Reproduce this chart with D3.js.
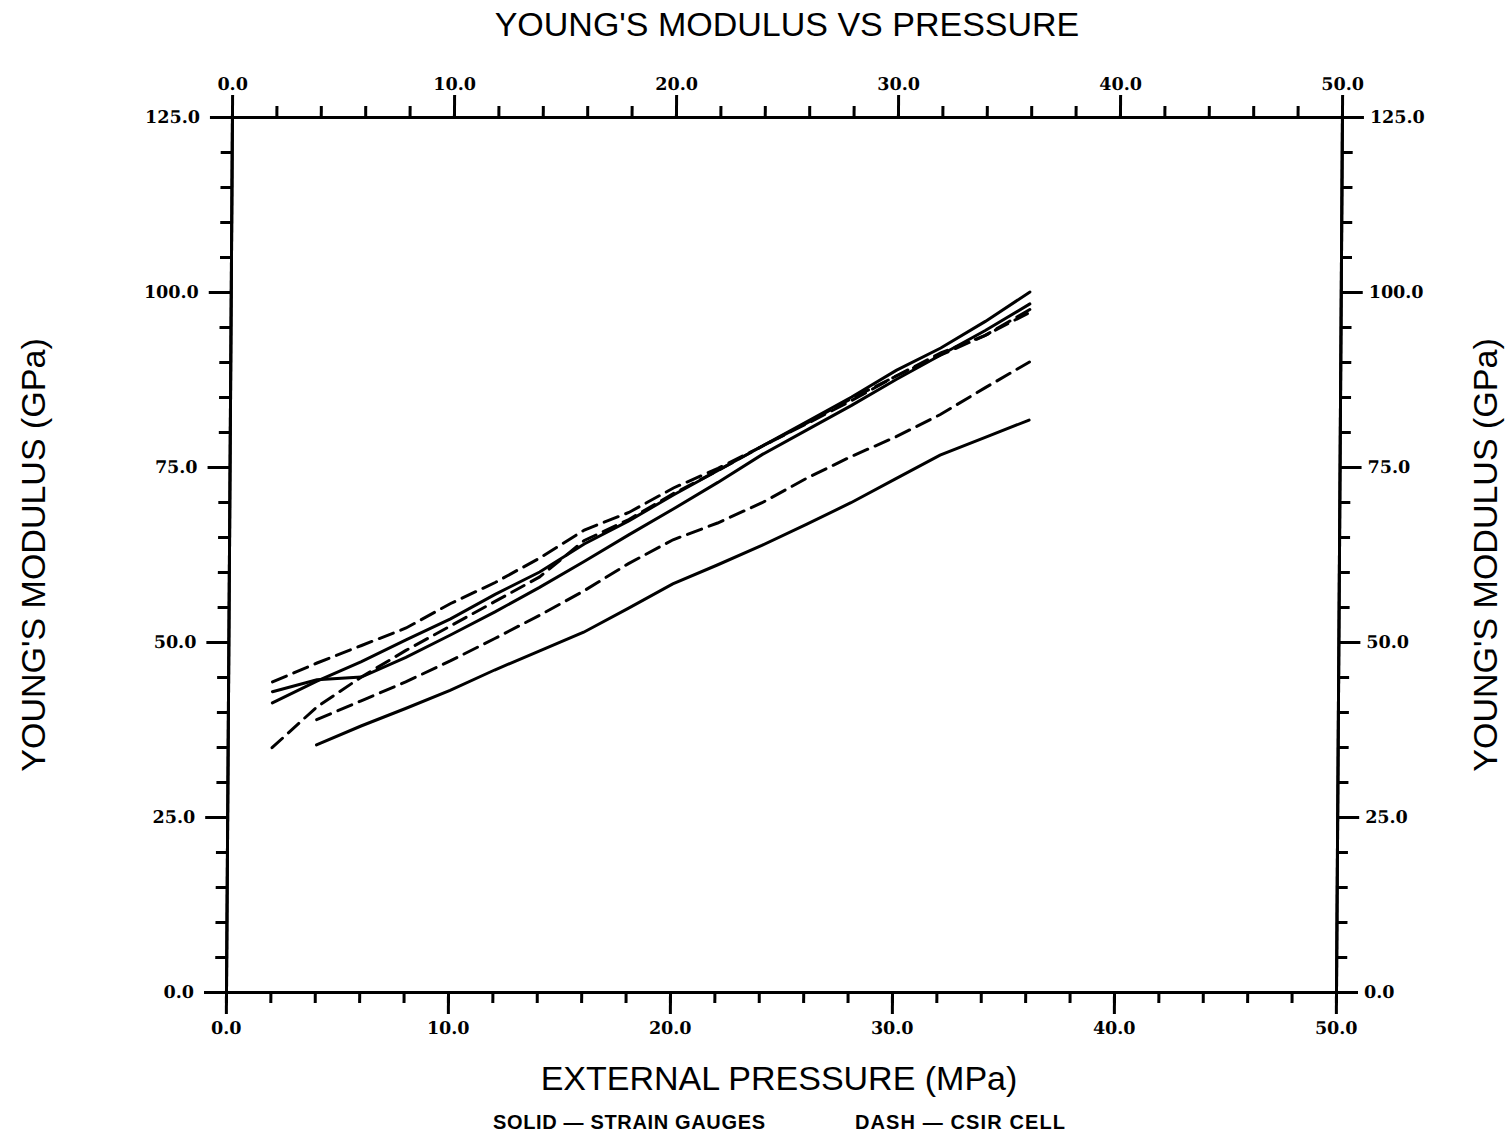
<!DOCTYPE html>
<html>
<head>
<meta charset="UTF-8">
<title>Young's Modulus vs Pressure</title>
<script src="https://d3js.org/d3.v7.min.js"></script>
<style>
  body { margin: 0; background: #fff; }
  .axis path, .axis line { stroke: #000; stroke-width: 3px; }
  .axis text { font-family: "DejaVu Serif", serif; font-weight: bold; font-size: 17.5px; fill: #000; }
  .label { font-family: "Liberation Sans", Arial, sans-serif; font-size: 34px; fill: #000; }
  .legend { font-family: "Liberation Sans", Arial, sans-serif; font-weight: bold; font-size: 20px; fill: #000; }
</style>
</head>
<body>
<div id="chart"></div>
<script>
// pressures (MPa)
var pressureFrom2 = [2, 4, 6, 8, 10, 12, 14, 16, 18, 20, 22, 24, 26, 28, 30, 32, 34, 36];
var pressureFrom4 = [4, 6, 8, 10, 12, 14, 16, 18, 20, 22, 24, 26, 28, 30, 32, 34, 36];

// solid - strain gauges (GPa)
var gaugeLow  = [35.3, 38.0, 40.5, 43.1, 46.0, 48.7, 51.4, 54.8, 58.3, 61.0, 63.8, 66.8, 69.9, 73.3, 76.7, 79.2, 81.7];
var gaugeMid  = [42.9, 44.6, 45.0, 47.8, 51.0, 54.3, 57.8, 61.5, 65.3, 69.0, 72.8, 76.8, 80.3, 83.8, 87.5, 91.0, 94.5, 98.3];
var gaugeHigh = [41.3, 44.4, 47.2, 50.3, 53.3, 56.8, 60.0, 64.0, 67.3, 71.0, 74.5, 78.0, 81.5, 85.0, 88.8, 92.0, 95.8, 100.0];

// dash - CSIR cell (GPa)
var cellLow  = [38.9, 41.6, 44.3, 47.3, 50.5, 53.8, 57.3, 61.2, 64.6, 67.0, 69.9, 73.4, 76.5, 79.3, 82.5, 86.3, 90.0];
var cellMid  = [34.9, 40.7, 45.0, 48.8, 52.3, 55.8, 59.3, 64.5, 67.5, 71.2, 74.5, 78.0, 81.3, 84.8, 88.0, 91.3, 93.8, 97.1];
var cellHigh = [44.3, 47.0, 49.5, 52.0, 55.5, 58.5, 62.0, 66.0, 68.5, 72.0, 74.8, 78.0, 81.2, 84.5, 88.0, 91.0, 93.8, 97.5];

// tick values
var xMajor = [0, 10, 20, 30, 40, 50];
var xMinor = d3.range(0, 51, 2);
var yMajor = [0, 25, 50, 75, 100, 125];
var yMinor = d3.range(0, 126, 5);

var series = [
  {x: pressureFrom4, y: gaugeLow,  dash: null},
  {x: pressureFrom2, y: gaugeMid,  dash: null},
  {x: pressureFrom2, y: gaugeHigh, dash: null},
  {x: pressureFrom4, y: cellLow,   dash: "15,8"},
  {x: pressureFrom2, y: cellMid,   dash: "14,8"},
  {x: pressureFrom2, y: cellHigh,  dash: "15,8"}
];

var width = 1110, height = 875;

var svg = d3.select("#chart")
  .append("svg")
  .attr("width", 1505)
  .attr("height", 1133);

// the scanned frame leans a little, so skew the plot group slightly
var g = svg.append("g")
  .attr("transform", "translate(226,992) skewX(-0.39) translate(0," + (-height) + ")");

var x = d3.scaleLinear().domain([0, 50]).range([0, width]);
var y = d3.scaleLinear().domain([0, 125]).range([height, 0]);
var fmt = d3.format(".1f");

// minor ticks
g.append("g").attr("class", "axis").attr("transform", "translate(0," + height + ")")
  .call(d3.axisBottom(x).tickValues(xMinor).tickSize(11).tickSizeOuter(0).tickFormat(""));
g.append("g").attr("class", "axis")
  .call(d3.axisTop(x).tickValues(xMinor).tickSize(11).tickSizeOuter(0).tickFormat(""));
g.append("g").attr("class", "axis")
  .call(d3.axisLeft(y).tickValues(yMinor).tickSize(11).tickSizeOuter(0).tickFormat(""));
g.append("g").attr("class", "axis").attr("transform", "translate(" + width + ",0)")
  .call(d3.axisRight(y).tickValues(yMinor).tickSize(11).tickSizeOuter(0).tickFormat(""));

// major ticks with labels
g.append("g").attr("class", "axis").attr("transform", "translate(0," + height + ")")
  .call(d3.axisBottom(x).tickValues(xMajor).tickSize(22).tickSizeOuter(0).tickPadding(8).tickFormat(fmt));
g.append("g").attr("class", "axis")
  .call(d3.axisTop(x).tickValues(xMajor).tickSize(22).tickSizeOuter(0).tickPadding(5).tickFormat(fmt));
g.append("g").attr("class", "axis")
  .call(d3.axisLeft(y).tickValues(yMajor).tickSize(22).tickSizeOuter(0).tickPadding(10).tickFormat(fmt));
g.append("g").attr("class", "axis").attr("transform", "translate(" + width + ",0)")
  .call(d3.axisRight(y).tickValues(yMajor).tickSize(22).tickSizeOuter(0).tickPadding(6).tickFormat(fmt));

// curves
var line = d3.line()
  .x(function(d) { return x(d[0]); })
  .y(function(d) { return y(d[1]); });

series.forEach(function(s) {
  g.append("path")
    .datum(d3.zip(s.x, s.y))
    .attr("fill", "none")
    .attr("stroke", "#000")
    .attr("stroke-width", 3)
    .attr("stroke-linecap", "round")
    .attr("stroke-dasharray", s.dash)
    .attr("d", line);
});

// titles
svg.append("text").attr("class", "label")
  .attr("x", 787).attr("y", 36).attr("text-anchor", "middle")
  .text("YOUNG'S MODULUS VS PRESSURE");

svg.append("text").attr("class", "label")
  .attr("x", 779).attr("y", 1090).attr("text-anchor", "middle")
  .text("EXTERNAL PRESSURE (MPa)");

svg.append("text").attr("class", "label")
  .attr("transform", "translate(45,555) rotate(-90)")
  .attr("text-anchor", "middle")
  .text("YOUNG'S MODULUS (GPa)");

svg.append("text").attr("class", "label")
  .attr("transform", "translate(1497,555) rotate(-90)")
  .attr("text-anchor", "middle")
  .text("YOUNG'S MODULUS (GPa)");

// legend notes
svg.append("text").attr("class", "legend")
  .attr("x", 493).attr("y", 1129)
  .attr("textLength", 272).attr("lengthAdjust", "spacing")
  .text("SOLID \u2014 STRAIN GAUGES");

svg.append("text").attr("class", "legend")
  .attr("x", 855).attr("y", 1129)
  .attr("textLength", 210).attr("lengthAdjust", "spacing")
  .text("DASH \u2014 CSIR CELL");
</script>
</body>
</html>
